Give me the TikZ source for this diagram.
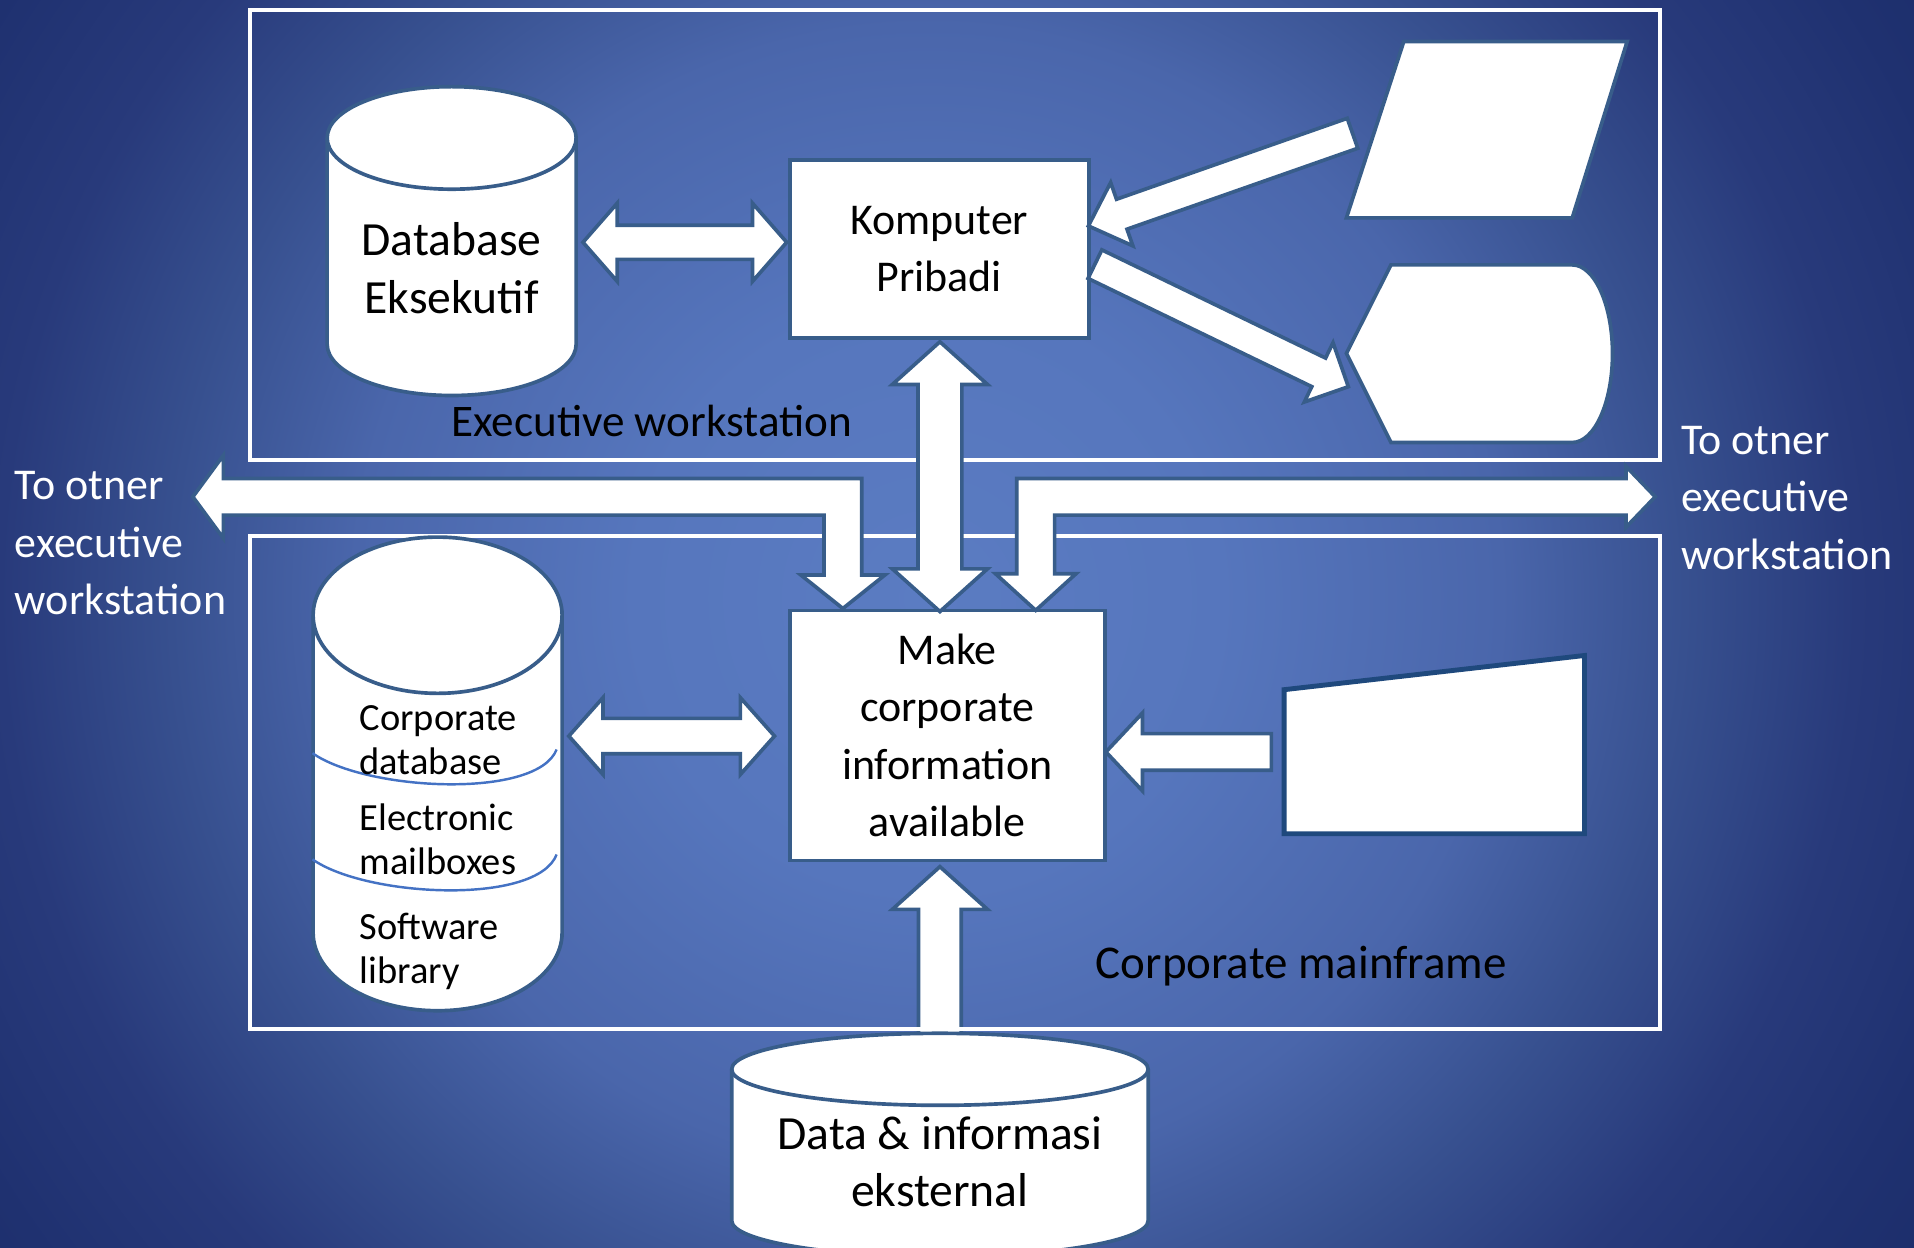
\documentclass[tikz,border=0pt]{standalone}
\usepackage{fontspec}
\setmainfont{Carlito}
\usetikzlibrary{calc}
\definecolor{bgA}{HTML}{5B7CC2}
\definecolor{bgB}{HTML}{5676BD}
\definecolor{bgC}{HTML}{4A66AB}
\definecolor{bgD}{HTML}{37508F}
\definecolor{bgE}{HTML}{283A7B}
\definecolor{bgF}{HTML}{1F3170}
\definecolor{bgG}{HTML}{1C2D6A}
\definecolor{edge}{HTML}{385D8A}
\definecolor{edgedark}{HTML}{1F497D}
\definecolor{seam}{HTML}{4472C4}
% 25bp corresponds to the radius of the shaded circle
\pgfdeclareradialshading{bgshade}{\pgfpoint{0bp}{0bp}}{color(0bp)=(bgA); color(6bp)=(bgB); color(11.75bp)=(bgC); color(15.5bp)=(bgD); color(19bp)=(bgE); color(22.5bp)=(bgF); color(25bp)=(bgG); color(50bp)=(bgG)}
\newcommand\bigfont{\fontsize{36}{47}\selectfont}
\newcommand\cylfont{\fontsize{39}{47}\selectfont}
\newcommand\smallfont{\fontsize{31.5}{36}\selectfont}
\tikzset{
  blockarrow/.style={fill=white, draw=edge, line width=3pt, line join=miter},
  framebox/.style={draw=white, line width=3.3pt},
  boxnode/.style={draw=edge, line width=3pt, fill=white, inner sep=0pt, align=center, font=\bigfont},
  cylstyle/.style={fill=white, draw=edge, line width=3pt},
  shapestyle/.style={fill=white, draw=edge, line width=3pt, line join=miter},
  seamline/.style={draw=seam, line width=2pt},
  lbl/.style={inner sep=0pt, align=center, font=\bigfont, text=black},
  sidelbl/.style={inner sep=0pt, align=left, font=\bigfont, text=white},
  smalllbl/.style={inner sep=0pt, align=left, font=\smallfont, text=black}
}
% single block arrow: #1 tail, #2 tip, #3 shaft half width, #4 head half width, #5 head length
\newcommand\sblockarrow[5]{%
  \path (#1); \pgfgetlastxy{\BAax}{\BAay}%
  \path (#2); \pgfgetlastxy{\BAbx}{\BAby}%
  \pgfmathsetmacro\BAang{atan2((\BAby)-(\BAay),(\BAbx)-(\BAax))}%
  \pgfmathsetmacro\BAlen{veclen((\BAbx)-(\BAax),(\BAby)-(\BAay))}%
  \pgfmathsetmacro\BAbase{\BAlen-#5}%
  \draw[blockarrow, shift={(#1)}, rotate=\BAang] (0pt,-#3pt) -- (\BAbase pt,-#3pt) -- (\BAbase pt,-#4pt) -- (\BAlen pt,0pt) -- (\BAbase pt,#4pt) -- (\BAbase pt,#3pt) -- (0pt,#3pt) -- cycle;
}
% double block arrow
\newcommand\dblockarrow[5]{%
  \path (#1); \pgfgetlastxy{\BAax}{\BAay}%
  \path (#2); \pgfgetlastxy{\BAbx}{\BAby}%
  \pgfmathsetmacro\BAang{atan2((\BAby)-(\BAay),(\BAbx)-(\BAax))}%
  \pgfmathsetmacro\BAlen{veclen((\BAbx)-(\BAax),(\BAby)-(\BAay))}%
  \pgfmathsetmacro\BAbase{\BAlen-#5}%
  \draw[blockarrow, shift={(#1)}, rotate=\BAang] (#5pt,-#3pt) -- (\BAbase pt,-#3pt) -- (\BAbase pt,-#4pt) -- (\BAlen pt,0pt) -- (\BAbase pt,#4pt) -- (\BAbase pt,#3pt) -- (#5pt,#3pt) -- (#5pt,#4pt) -- (0pt,0pt) -- (#5pt,-#4pt) -- cycle;
}
% cylinder: #1 cx, #2 rx, #3 top cy, #4 bottom cy, #5 ry
\newcommand\cylshape[5]{%
  \draw[cylstyle] (#1-#2,#3) -- (#1-#2,#4) arc[start angle=180, end angle=0, x radius=#2, y radius=#5] -- (#1+#2,#3) arc[start angle=0, end angle=-180, x radius=#2, y radius=#5] -- cycle;
  \draw[cylstyle, fill=none] (#1-#2,#3) arc[start angle=180, end angle=0, x radius=#2, y radius=#5];
}
\begin{document}
\begin{tikzpicture}[x=1pt, y=-1pt]
\useasboundingbox (0,0) rectangle (1568,1021.6);
% background
\begin{scope}
  \clip (0,0) rectangle (1568,1021.6);
  \shade[shading=bgshade] (760,490) circle (1000);
\end{scope}

% named coordinates for connectors
\coordinate (extTop) at (770,870);
\coordinate (makeBot) at (770,710);

% up arrow from external data (under frame and cylinder)
\sblockarrow{extTop}{makeBot}{17.5}{39}{35}

% frames
\draw[framebox] (205,8.5) rectangle (1360,376.5);
\draw[framebox] (205,439) rectangle (1360,843);

% cylinders
\cylshape{370}{102}{113}{282}{42}
\node[lbl, font=\cylfont] (dbexec) at (370,219.7) {Database\\Eksekutif};

\cylshape{358.5}{102}{504}{764}{64}
\draw[seamline] (256,617) .. controls (300,648) and (440,655) .. (456,614);
\draw[seamline] (256,704) .. controls (300,735) and (440,742) .. (456,700);
\node[smalllbl, anchor=west] (corpdb) at (294.5,606.3) {Corporate\\database};
\node[smalllbl, anchor=west] (mailbox) at (294.5,687.3) {Electronic\\mailboxes};
\node[smalllbl, anchor=west] (softlib) at (294.5,779.3) {Software\\library};

\cylshape{770}{170.6}{876}{1000}{29.5}
\node[lbl, font=\cylfont] (extdata) at (770,951.7) {Data \& informasi\\eksternal};

% boxes
\node[boxnode, minimum width=245pt, minimum height=146pt] (komp) at (769.5,204) {Komputer\\Pribadi};
\node[boxnode, minimum width=258pt, minimum height=205pt] (make) at (776,602.5) {Make\\corporate\\information\\available};

% other symbols
\draw[shapestyle] (1150,34) -- (1333,34) -- (1288,178.5) -- (1103,178.5) -- cycle;
\draw[shapestyle] (1103,289.5) -- (1139.5,217) -- (1288,217) arc[start angle=-90, end angle=90, x radius=33, y radius=72.75] -- (1139.5,362.5) -- cycle;
\draw[shapestyle, draw=edgedark, line width=4pt] (1052,565) -- (1298,537) -- (1298,683) -- (1052,683) -- cycle;

% connector coordinates
\coordinate (dbR) at (477.6,198.5);
\coordinate (kompL) at (644.5,198.5);
\coordinate (cdbR) at (466,603);
\coordinate (makeL) at (634.5,603);
\coordinate (kompB) at (770,280);
\coordinate (makeT) at (770,501);
\coordinate (manualL) at (1041.5,616);
\coordinate (makeR) at (906,616);
\coordinate (inTail) at (1108,109.2);
\coordinate (kompR1) at (891.6,185.1);
\coordinate (kompR2) at (897,216.4);
\coordinate (dispL) at (1104.6,316.8);

% arrows
\dblockarrow{dbR}{kompL}{14}{32}{28}
\dblockarrow{cdbR}{makeL}{14.5}{31.5}{28}
\dblockarrow{kompB}{makeT}{18}{39}{35}
\sblockarrow{manualL}{makeR}{15}{32}{30}
\sblockarrow{inTail}{kompR1}{13}{27.5}{29}
\sblockarrow{kompR2}{dispL}{13}{27}{27}

% bent arrows to other workstations
\draw[blockarrow] (158,407) -- (183,373) -- (183,392) -- (706,392) -- (706,471) -- (725,471) -- (690.5,498.5) -- (656,471) -- (675,471) -- (675,422) -- (183,422) -- (183,441) -- cycle;
\draw[blockarrow] (1356,407) -- (1332,432) -- (1332,422) -- (864,422) -- (864,470) -- (881.5,470) -- (848.5,500) -- (815.5,470) -- (833,470) -- (833,392) -- (1332,392) -- (1332,382) -- cycle;

% labels
\node[lbl, anchor=base] (execlbl) at (534,357.7) {\fontsize{37}{47}\selectfont Executive workstation};
\node[lbl, anchor=base] (corplbl) at (1066,802) {\fontsize{38.5}{47}\selectfont Corporate mainframe};
\node[sidelbl, anchor=west] (leftlbl) at (12,445.1) {To otner\\executive\\workstation};
\node[sidelbl, anchor=west] (rightlbl) at (1377,407.9) {To otner\\executive\\workstation};
\end{tikzpicture}
\end{document}
